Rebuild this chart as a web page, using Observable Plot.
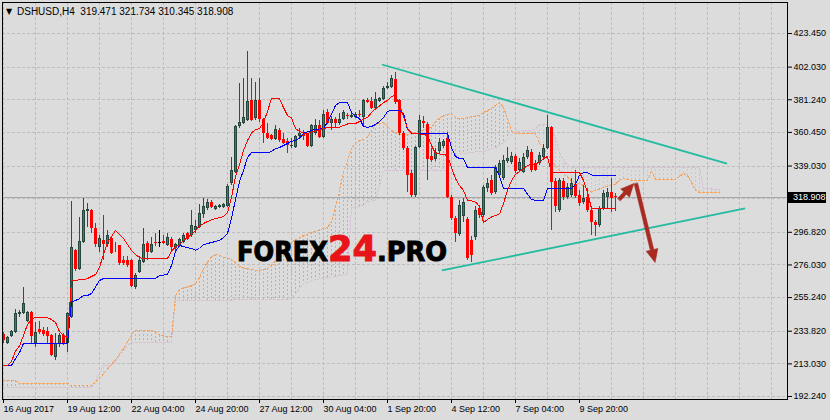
<!DOCTYPE html>
<html><head><meta charset="utf-8">
<script src="https://cdn.jsdelivr.net/npm/d3@7"></script>
<script src="https://cdn.jsdelivr.net/npm/@observablehq/plot@0.6"></script>
<style>
html,body{margin:0;padding:0;background:#dcdcdc;}
svg{display:block}
</style></head><body><div id="chart"></div>
<script>
const symbol = "DSHUSD,H4";
// 4-hour bars, index 0 = first visible bar
const open = [231.7,226.0,230.4,233.0,244.5,245.1,240.0,245.7,226.0,234.9,
234.3,233.6,231.1,217.0,225.3,231.1,226.0,242.5,285.2,273.1,
290.3,310.1,310.7,299.2,287.1,291.6,289.0,292.9,288.4,288.4,
278.9,278.9,278.9,261.7,271.2,277.6,289.7,283.9,290.6,290.3,
290.9,288.4,292.2,286.5,288.4,290.3,296.1,294.8,298.0,299.9,
308.2,312.0,315.8,311.4,312.6,312.6,313.3,327.9,334.9,364.2,
366.1,368.0,380.8,369.3,380.8,368.7,359.8,358.5,356.0,361.7,
356.0,354.7,351.5,350.8,357.8,359.1,359.1,351.5,359.8,364.8,
357.2,373.1,366.1,368.7,366.1,368.7,371.5,369.9,369.9,371.8,
369.9,380.8,380.1,375.7,380.1,381.4,388.4,389.1,394.1,380.8,
359.8,350.2,334.3,320.3,350.8,367.4,365.5,345.1,343.2,348.3,
351.5,356.6,319.0,305.6,295.4,306.9,304.9,291.6,293.5,312.0,
307.5,324.7,329.8,322.2,333.0,331.1,341.9,341.3,345.1,336.2,
334.9,344.5,347.6,340.6,340.6,344.5,350.2,363.6,329.2,310.7,
329.2,319.0,320.3,327.3,320.3,315.8,319.0,310.7,303.1,301.1,
312.0,319.0,322.2,319.471];
const high = [232.7,230.4,234.3,247.6,247.0,261.7,246.4,246.4,239.4,240.0,
236.2,236.2,231.7,232.3,232.3,232.3,245.7,316.4,285.9,306.2,
318.3,315.2,311.4,302.4,294.8,307.5,298.0,293.5,290.3,288.6,
281.4,281.4,279.5,270.6,281.4,299.2,290.9,293.5,296.1,298.0,
294.8,296.1,293.5,289.7,292.9,296.1,296.7,310.7,304.3,314.5,
318.3,317.7,317.1,313.9,314.5,315.2,327.3,344.5,364.8,391.6,
394.8,412.0,394.8,392.2,394.8,369.3,366.1,359.1,364.8,362.9,
359.8,356.6,356.6,358.5,362.9,361.7,359.8,365.5,368.7,368.0,
374.4,375.0,370.6,369.9,372.5,374.4,372.5,372.5,373.1,374.4,
381.4,382.0,382.7,385.9,382.7,389.7,392.2,396.7,398.6,381.4,
361.0,351.5,336.2,351.5,371.2,370.6,366.8,350.2,350.2,356.6,
356.0,360.4,320.3,306.9,317.1,318.3,306.2,294.2,313.3,313.9,
326.6,331.1,333.0,339.4,342.6,345.7,350.8,347.6,346.4,343.8,
347.0,351.5,349.6,342.6,347.6,352.7,371.2,364.2,331.1,331.1,
331.1,327.9,331.1,336.2,323.5,326.6,324.7,312.0,304.3,313.3,
323.5,324.7,331.1,321.734];
const low = [226.0,225.3,229.8,232.3,242.5,244.5,239.4,226.0,223.4,231.7,
230.4,226.0,217.7,215.2,223.4,224.7,220.2,241.9,271.8,272.5,
289.7,299.9,296.1,287.1,283.9,278.9,287.1,282.7,283.9,275.7,
275.7,274.4,261.7,260.4,270.6,276.9,278.9,283.3,287.8,287.1,
289.0,287.8,283.9,284.6,287.1,289.7,291.6,293.5,296.1,299.2,
305.6,310.7,312.0,310.7,312.0,312.0,312.6,326.6,334.3,362.9,
365.5,367.4,367.4,368.0,366.8,353.4,356.0,355.3,355.3,354.0,
352.7,347.0,350.2,350.2,357.2,355.3,350.8,350.8,358.5,356.6,
356.6,365.5,361.7,363.6,364.8,368.0,368.7,369.3,369.3,369.9,
363.6,378.9,375.0,374.4,379.5,380.8,387.8,388.4,378.2,358.5,
349.0,322.2,319.0,319.0,350.2,362.9,330.0,341.3,341.9,347.0,
350.2,318.4,304.3,290.3,294.2,303.1,278.9,277.6,291.6,305.6,
306.2,322.2,320.3,320.9,331.1,329.8,340.6,340.0,334.3,334.9,
334.3,343.2,334.9,335.5,339.4,342.6,349.6,298.0,309.4,309.4,
317.1,317.7,319.0,318.4,313.3,314.5,309.4,294.8,294.2,299.9,
310.7,312.0,309.4,310.345];
const close = [227.9,229.8,233.6,245.1,245.7,251.5,245.7,230.4,233.0,233.0,
231.7,230.4,218.3,226.0,231.1,226.0,245.1,287.1,273.1,290.9,
310.7,311.4,299.2,289.0,292.9,289.0,294.8,283.3,288.1,276.9,
276.9,275.7,262.3,269.3,278.9,289.0,283.9,289.0,290.0,290.3,
289.7,293.5,287.1,289.0,292.2,294.8,292.2,301.1,300.5,308.8,
313.3,315.8,312.6,313.0,313.9,314.5,326.0,336.2,364.2,366.8,
369.9,380.1,368.0,380.8,368.7,359.8,356.6,356.0,362.3,355.3,
353.4,352.1,352.1,357.8,359.8,357.8,351.5,364.8,364.8,357.2,
371.8,366.1,368.7,366.1,368.7,373.1,370.9,371.2,371.8,371.2,
380.8,379.5,375.7,381.4,382.0,388.4,389.7,394.8,379.5,359.8,
350.2,333.0,320.3,350.8,368.0,366.1,343.0,342.6,347.6,354.0,
354.6,319.0,305.6,296.1,313.9,315.8,280.1,282.0,310.7,307.5,
325.4,327.9,321.5,338.1,340.6,342.6,343.8,345.1,335.5,341.3,
344.5,349.0,336.2,336.2,345.7,350.2,363.6,328.5,313.3,329.8,
319.0,325.4,327.9,319.6,315.2,318.3,310.7,303.1,301.1,312.0,
321.5,322.2,318.3,318.908];
// Ichimoku lines
const tenkan = [212.0,212.0,214.5,221.2,224.4,231.1,238.1,241.6,242.5,242.5,
242.5,242.5,241.3,239.4,233.6,231.1,229.8,266.1,266.1,266.7,
266.7,267.4,268.7,269.9,274.4,282.7,290.3,294.1,298.0,295.4,
292.9,289.0,285.2,282.7,280.7,280.1,280.1,280.1,280.1,280.1,
280.1,280.1,284.9,287.5,289.0,291.6,293.5,295.4,298.0,300.8,
302.4,303.7,304.7,305.6,306.2,306.9,309.4,319.0,332.4,340.0,
349.0,355.3,360.1,362.3,362.9,366.8,373.8,382.0,382.0,382.0,
376.3,371.2,369.6,362.9,361.0,360.1,359.8,360.7,361.3,362.0,
362.9,363.6,363.6,363.6,363.6,364.9,365.8,366.1,366.1,367.4,
369.0,369.9,373.1,375.4,377.3,379.5,380.8,383.3,384.0,377.6,
370.9,362.6,360.1,359.8,359.4,359.1,358.5,352.1,347.0,346.7,
346.4,345.7,338.1,331.1,326.6,323.5,317.1,316.8,316.1,313.3,
303.1,305.0,306.6,307.5,308.5,315.2,323.5,329.8,333.6,335.5,
337.5,339.4,340.0,340.6,341.3,343.8,345.1,334.9,334.9,334.9,
334.9,334.9,334.9,334.9,334.9,329.8,322.2,312.0,312.0,312.0,
312.0,312.0,312.0,312.0];
const kijun = [212.0,212.0,212.0,216.4,220.2,226.0,226.0,226.0,226.0,226.0,
226.0,226.0,226.0,226.0,226.0,226.0,226.0,252.7,253.4,254.6,
256.6,256.6,257.8,262.0,266.1,267.4,267.4,267.4,267.4,267.4,
267.4,267.4,267.4,267.4,267.4,267.4,267.4,267.4,267.4,269.3,
269.6,270.0,275.7,284.6,288.4,287.8,287.0,286.5,285.5,286.5,
289.0,289.7,290.3,291.0,291.6,293.5,296.1,305.6,317.7,329.2,
336.2,344.5,347.6,347.6,347.6,347.6,347.6,348.3,350.2,350.8,
352.1,353.4,354.7,355.3,356.8,359.8,360.8,361.8,362.2,362.6,
362.9,367.0,371.9,377.6,379.5,379.5,379.5,373.1,370.6,369.3,
364.2,363.6,364.2,365.5,367.4,369.9,373.8,374.4,374.4,374.4,
372.5,362.3,359.8,359.8,359.8,359.8,359.8,359.8,359.8,359.8,
359.8,359.8,350.8,345.1,343.8,343.8,338.1,338.1,338.1,338.1,
338.1,338.1,338.1,338.1,332.5,324.7,324.7,324.7,324.7,324.7,
324.7,321.2,317.8,317.1,317.1,317.1,324.7,324.7,324.7,324.7,
324.7,324.7,324.7,327.3,333.2,334.9,334.9,333.4,333.0,333.0,
333.0,333.0,333.0,333.0];
const spanA = [202.4,202.4,202.4,202.4,200.5,200.5,200.5,200.5,200.5,200.5,
200.5,200.5,200.5,200.5,200.5,200.5,200.5,199.2,199.2,199.2,
199.2,199.2,199.2,201.5,203.7,206.6,209.7,212.6,215.8,219.3,
222.8,227.0,231.4,234.3,234.3,234.3,234.3,234.3,233.3,231.4,
230.8,230.4,230.4,256.6,260.4,261.4,262.0,262.8,264.2,268.0,
273.8,277.7,281.1,282.7,282.3,280.7,280.4,279.6,277.3,275.0,
274.1,273.6,273.2,272.7,272.6,273.1,273.8,275.9,278.7,281.8,
284.9,288.1,290.6,292.0,293.4,294.8,295.7,296.6,297.5,298.5,
299.1,299.9,303.4,313.1,323.6,334.9,342.6,350.2,353.6,355.4,
355.9,357.6,361.2,365.5,366.1,366.6,364.2,361.7,360.4,359.1,
358.6,359.1,359.8,360.5,361.3,362.1,362.9,363.6,367.1,369.6,
371.4,371.9,372.5,369.8,369.0,369.1,369.9,370.5,371.0,371.5,
373.1,374.4,375.7,377.7,379.3,376.5,369.3,361.7,359.8,359.8,
359.8,359.8,359.8,359.8,353.4,350.8,346.8,342.6,338.7,336.2,
334.3,332.0,329.5,328.5,327.9,326.6,324.1,322.4,323.5,324.4,
325.4,326.1,326.8,327.5,330.0,331.1,330.4,329.8,329.8,329.8,
329.8,329.8,336.2,330.4,330.4,330.4,330.4,330.4,330.4,332.4,
334.3,333.0,328.5,323.5,322.2,322.2,322.2,322.2,322.2,322.2];
const spanB = [198.0,198.0,198.0,198.0,198.0,198.0,198.0,198.0,198.0,198.0,
198.0,198.0,198.0,198.0,198.0,198.0,198.0,198.0,198.0,198.0,
198.0,198.0,198.0,202.2,207.3,212.0,212.0,212.0,214.0,217.9,
221.3,224.7,226.6,226.6,226.6,226.6,226.6,226.6,226.6,226.6,
226.6,226.6,226.6,253.4,253.4,253.4,253.4,253.4,253.4,253.4,
253.4,253.4,253.4,253.4,253.4,253.4,253.4,253.4,254.0,254.0,
254.0,254.0,254.0,254.0,254.0,254.0,254.0,254.0,254.0,254.0,
254.0,254.0,254.6,257.8,261.0,264.2,265.0,265.9,266.8,267.1,
267.5,268.0,268.3,268.7,269.1,269.5,269.9,312.6,313.1,313.4,
313.9,316.4,316.8,317.1,326.6,336.2,336.2,336.2,336.2,336.2,
336.2,336.2,336.2,336.2,336.2,336.2,336.2,336.2,336.2,336.2,
336.2,336.2,342.6,344.8,347.0,347.0,347.3,347.6,348.0,348.0,
348.3,349.1,350.0,350.8,352.4,354.0,356.6,359.1,361.0,361.3,
361.7,361.7,362.0,362.3,365.5,365.5,365.5,361.7,356.6,347.6,
342.6,339.4,338.1,338.1,338.1,338.1,338.1,338.1,338.1,338.1,
338.1,338.1,338.1,338.1,338.1,338.1,338.1,338.1,338.1,338.1,
338.1,338.1,338.1,338.1,338.1,338.1,338.1,338.1,338.1,338.1,
338.1,338.1,338.1,338.1,338.1,324.7,324.7,324.4,324.1,324.1];
const priceTicks = [423.45,402.03,381.24,360.45,339.03,296.82,276.03,255.24,233.82,213.03,192.24];
const priceGrid = [423.45,402.03,381.24,360.45,339.03,318.24,296.82,276.03,255.24,233.82,213.03,192.24];
const timeTickBars = [0,16,32,48,64,80,96,112,128,144];
const timeTickLabels = ["16 Aug 2017","19 Aug 12:00","22 Aug 04:00","24 Aug 20:00","27 Aug 12:00","30 Aug 04:00","1 Sep 20:00","4 Sep 12:00","7 Sep 04:00","9 Sep 20:00"];
const gridBars = [0,8,16,24,32,40,48,56,64,72,80,88,96,104,112,120,128,136,144,152,160,168,176,184,192];
const trendLines = [{x1:94.6,y1:403.7,x2:180.9,y2:340.6},{x1:109.6,y1:272.5,x2:185.4,y2:312.0}];
const arrows = [{x1:153.9,y1:317.7,x2:157.6,y2:327.9},{x1:158.1,y1:327.9,x2:162.9,y2:277.6}];

const W = 830, H = 420, mL = 2, mR = 43, mT = 2, mB = 21;
const xDomain = [-0.25, 196], yDomain = [190.329, 443.195];
const pxPerBar = (W - mL - mR) / (xDomain[1] - xDomain[0]);
const pxPerPrice = (H - mT - mB) / (yDomain[1] - yDomain[0]);

const candles = open.map((o,i)=>({i,o,h:high[i],l:low[i],c:close[i],up:close[i]>o,doji:close[i]===o}));
const cloud = spanA.map((a,i)=>({i,a,b:spanB[i]}));
const ind = tenkan.map((t,i)=>({i,t,k:kijun[i]}));
const last = candles[candles.length-1];
const hw = 0.375;
const crisp = "crispEdges";
const labelOf = new Map(timeTickBars.map((b,k)=>[b,timeTickLabels[k]]));

// arrow geometry in screen terms (derived from the data and the scales' ratios)
const arrowMarks = arrows.map(a => {
  const dx = (a.x2 - a.x1) * pxPerBar, dy = (a.y2 - a.y1) * pxPerPrice;
  const len = Math.hypot(dx, dy), ang = Math.atan2(dx, dy) * 180 / Math.PI;
  const shape = {draw(ctx, l) {
    const w = 1.8, hl = 13, hh = 6;
    ctx.moveTo(-w, 0); ctx.lineTo(-w, -l + hl); ctx.lineTo(-hh, -l + hl); ctx.lineTo(0, -l);
    ctx.lineTo(hh, -l + hl); ctx.lineTo(w, -l + hl); ctx.lineTo(w, 0); ctx.closePath();
  }};
  return Plot.vector([a], {x:"x1", y:"y1", length: len, rotate: ang, anchor:"start", shape, fill:"#a82a20", stroke:"#a82a20", strokeWidth:0.5});
});

const chart = Plot.plot({
  width: W, height: H,
  marginLeft: mL, marginRight: mR, marginTop: mT, marginBottom: mB,
  style: {background:"#dcdcdc", fontFamily:"'Liberation Sans', Arial, sans-serif", fontSize:"9px", color:"#000"},
  x: {type:"linear", domain: xDomain},
  y: {domain: yDomain},
  marks: [
    Plot.ruleY(priceGrid, {stroke:"#bdbdbd", strokeDasharray:"3,2", shapeRendering:crisp}),
    Plot.ruleX(gridBars, {stroke:"#bdbdbd", strokeDasharray:"3,2", shapeRendering:crisp}),
    Plot.ruleY([last.c], {stroke:"#a8a8a8", shapeRendering:crisp}),
    Plot.ruleX(cloud, {x:"i", y1:"a", y2:"b", stroke:d=>d.a>=d.b?"#F4A460":"#D8BFD8", strokeDasharray:"2,2", shapeRendering:crisp}),
    Plot.line(cloud, {x:"i", y:"b", stroke:"#D8BFD8", strokeWidth:1, strokeDasharray:"2,2", shapeRendering:crisp}),
    Plot.line(cloud, {x:"i", y:"a", stroke:"#F4A460", strokeWidth:1, strokeDasharray:"2,2", shapeRendering:crisp}),
    Plot.ruleX(candles, {x:"i", y1:"l", y2:"h", stroke:d=>d.doji?"#000":d.up?"#2f4f4f":"#ff0000", shapeRendering:crisp}),
    Plot.rect(candles.filter(d=>d.up), {x1:d=>d.i-hw, x2:d=>d.i+hw, y1:"o", y2:"c", fill:"#24463c", shapeRendering:crisp}),
    Plot.rect(candles.filter(d=>d.up && (d.c-d.o)>1.6), {x1:d=>d.i-hw, x2:d=>d.i+hw, y1:"o", y2:"c", fill:"#3f7d68", inset:1, shapeRendering:crisp}),
    Plot.rect(candles.filter(d=>!d.up && !d.doji), {x1:d=>d.i-hw, x2:d=>d.i+hw, y1:"o", y2:"c", fill:"#ff0000", shapeRendering:crisp}),
    Plot.ruleY(candles.filter(d=>d.doji), {y:"c", x1:d=>d.i-hw, x2:d=>d.i+hw, stroke:"#000", shapeRendering:crisp}),
    Plot.line(ind, {x:"i", y:"k", stroke:"#0000ff", strokeWidth:1, shapeRendering:crisp}),
    Plot.line(ind, {x:"i", y:"t", stroke:"#ff0000", strokeWidth:1, shapeRendering:crisp}),
    Plot.link(trendLines, {x1:"x1", y1:"y1", x2:"x2", y2:"y2", stroke:"#22bba0", strokeWidth:1.8}),
    ...arrowMarks,
    Plot.frame({stroke:"#000", shapeRendering:crisp}),
    Plot.axisY(priceTicks, {anchor:"right", tickSize:4, tickPadding:2, tickFormat:d=>d.toFixed(3), label:null}),
    Plot.axisX(timeTickBars, {anchor:"bottom", tickSize:4, tickPadding:2, tickFormat:d=>labelOf.get(d), textAnchor:"start", label:null})
  ]
});
document.getElementById("chart").appendChild(chart);

const svg = d3.select(chart);
const yPix = chart.scale("y").apply(last.c);
const ann = svg.append("g").attr("text-anchor","start");
ann.append("rect").attr("x",788).attr("y",Math.round(yPix)-5).attr("width",38).attr("height",11).attr("fill","#000");
ann.append("text").attr("x",793).attr("y",yPix).attr("dy","0.34em").attr("fill","#fff").style("font-size","9px").text(last.c.toFixed(3));
ann.append("text").attr("x",6).attr("y",14).style("font-family","'DejaVu Sans', sans-serif").style("font-size","8px").attr("fill","#000").text("\u25BC");
ann.append("text").attr("x",17).attr("y",14.5).style("font-size","10px").attr("fill","#000")
  .text(symbol + "\u00a0\u00a0" + [last.o,last.h,last.l,last.c].map(v=>v.toFixed(3)).join(" "));
const wm = ann.append("g").style("font-family","'DejaVu Sans', sans-serif").style("font-weight","bold");
wm.append("text").attr("x",237).attr("y",261).attr("font-size",26).attr("textLength",91).attr("lengthAdjust","spacingAndGlyphs").attr("fill","#000").attr("stroke","#000").attr("stroke-width",1).text("FOREX");
wm.append("text").attr("x",328).attr("y",261).attr("font-size",36).attr("textLength",49).attr("lengthAdjust","spacingAndGlyphs").attr("fill","#e8141a").attr("stroke","#e8141a").attr("stroke-width",1).text("24");
wm.append("text").attr("x",377).attr("y",261).attr("font-size",26).attr("textLength",70).attr("lengthAdjust","spacingAndGlyphs").attr("fill","#000").attr("stroke","#000").attr("stroke-width",1).text(".PRO");
</script></body></html>
